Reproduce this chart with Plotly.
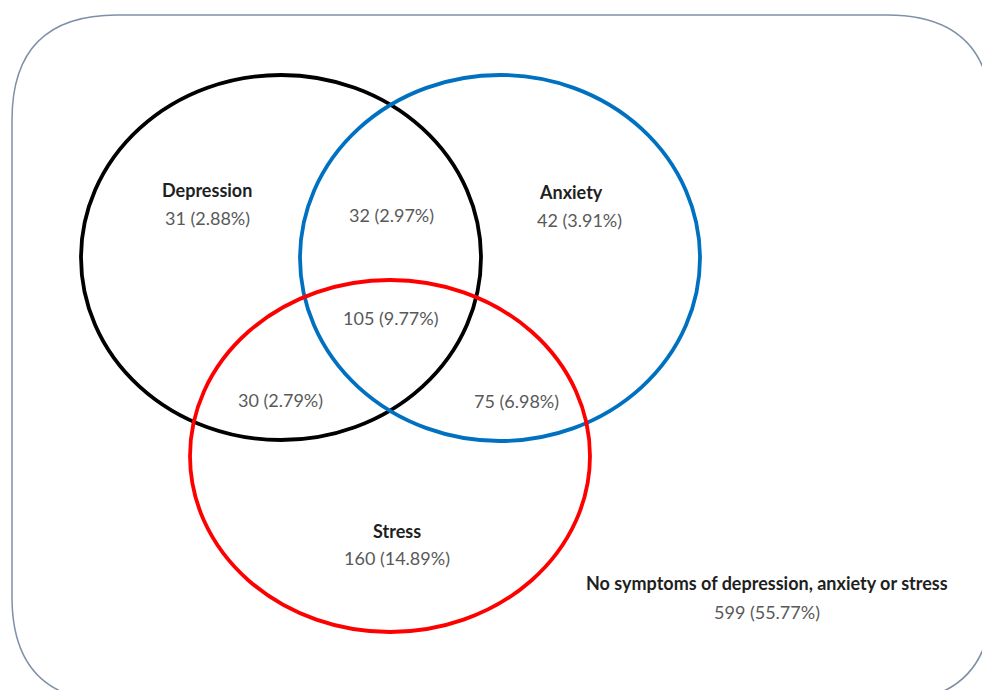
import plotly.graph_objects as go

# ---- data ----
set_names = ["Depression", "Anxiety", "Stress"]
region_counts = [31, 42, 160, 32, 30, 75, 105, 599]
region_pcts = ["2.88%", "3.91%", "14.89%", "2.97%", "2.79%", "6.98%", "9.77%", "55.77%"]
none_label = "No symptoms of depression, anxiety or stress"

# ---- layout (page pixel coords) ----
W, H = 982, 690
circle_boxes = [(81, 75, 481, 440), (300, 75, 700, 441), (190, 280, 590, 632)]
circle_colors = ["#000000", "#0070C0", "#FF0000"]
title_pos = [(207, 190), (571, 192), (397, 531), (767, 583)]
count_pos = [(207, 218), (579, 220), (397, 558), (391, 215), (280, 400), (516, 401), (391, 318), (767, 612)]

FONT = "Lato"
FSIZE = 18
TITLE_COLOR = "#1f1f1f"
NUM_COLOR = "#595959"

fig = go.Figure()
fig.add_trace(go.Scatter(x=[0, W], y=[0, H], mode="markers", marker=dict(opacity=0),
                         hoverinfo="skip", showlegend=False))

# rounded rectangle border
x0, y0, x1, y1, r = 12, 15, 992, 702, 105
path = (f"M {x0+r},{y0} L {x1-r},{y0} Q {x1},{y0} {x1},{y0+r} L {x1},{y1-r} Q {x1},{y1} {x1-r},{y1} "
        f"L {x0+r},{y1} Q {x0},{y1} {x0},{y1-r} L {x0},{y0+r} Q {x0},{y0} {x0+r},{y0} Z")
fig.add_shape(type="path", path=path, line=dict(color="#7f90a8", width=1.5), xref="x", yref="y")

for (a, b, c, d), col in zip(circle_boxes, circle_colors):
    fig.add_shape(type="circle", x0=a, y0=b, x1=c, y1=d, line=dict(color=col, width=3.8), xref="x", yref="y")

titles = set_names + [none_label]
for t, (x, y) in zip(titles, title_pos):
    fig.add_annotation(x=x, y=y, text=f"<b>{t}</b>", showarrow=False,
                       font=dict(family=FONT, size=FSIZE, color=TITLE_COLOR))

for n, p, (x, y) in zip(region_counts, region_pcts, count_pos):
    fig.add_annotation(x=x, y=y, text=f"{n} ({p})", showarrow=False,
                       font=dict(family=FONT, size=FSIZE, color=NUM_COLOR))

fig.update_xaxes(range=[0, W], visible=False, fixedrange=True)
fig.update_yaxes(range=[H, 0], visible=False, fixedrange=True)
fig.update_layout(width=W, height=H, margin=dict(l=0, r=0, t=0, b=0), plot_bgcolor="white",
                  paper_bgcolor="white", showlegend=False)
fig.write_html("out.html", config={"displayModeBar": False},
               post_script="document.body.style.margin='0';document.body.style.overflow='hidden';")
